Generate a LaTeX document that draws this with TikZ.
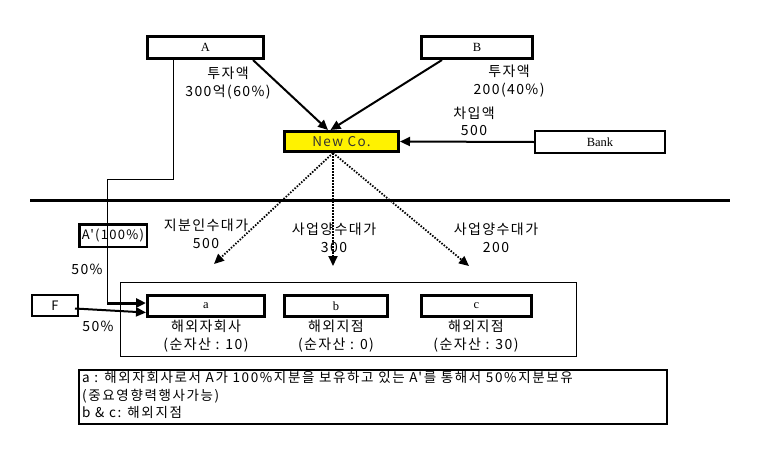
\documentclass[tikz,border=0pt]{standalone}
\usepackage{fontspec}
\setmainfont{Noto Sans CJK KR}
\newfontfamily\kr{Noto Sans CJK KR}[LetterSpace=10]
\newfontfamily\krn{Noto Sans CJK KR}[LetterSpace=12]
\newfontfamily\serifen{Liberation Serif}
\usetikzlibrary{arrows.meta}
\begin{document}
\begin{tikzpicture}[x=1pt,y=-1pt,
  box/.style={draw, inner sep=0pt, font=\serifen\fontsize{12.5}{14}\selectfont},
  thk/.style={box, line width=3pt},
  lbl/.style={align=center, inner sep=0pt, font=\kr\fontsize{14}{17.5}\selectfont},
  arr/.style={line width=2pt, -{Triangle[length=10pt,width=9pt]}},
  dotarr/.style={line width=1.8pt, dash pattern=on 1.5pt off 1.5pt, -{Triangle[length=10pt,width=9pt]}}]
\useasboundingbox (0,0) rectangle (763,450);
% top nodes
\node[thk, minimum width=116pt, minimum height=22pt] (A) at (205.5,47.5) {A};
\node[thk, minimum width=111pt, minimum height=22pt] (B) at (477,47.5) {B};
\node[thk, fill=yellow, minimum width=114pt, minimum height=20pt,
      font=\kr\fontsize{13.5}{14}\selectfont, text=black!80] (NewCo) at (341.5,141.5) {New Co.};
\node[box, line width=2pt, minimum width=130pt, minimum height=22pt] (Bank) at (600,142) {Bank};
% labels top
\node[lbl] (invA) at (228,83) {투자액\\300억(60\%)};
\node[lbl] (invB) at (509,81) {투자액\\200(40\%)};
\node[lbl] (loan) at (474,121.5) {차입액\\500};
% arrows top
\draw[arr] ([xshift=-12pt]A.south east) -- ([xshift=-13.5pt]NewCo.north);
\draw[arr] ([xshift=22pt]B.south west) -- ([xshift=-11pt]NewCo.north);
\draw[arr] (Bank.west) -- (NewCo.east);
% divider
\draw[line width=3pt] (30,200) -- (730,200);
% left side
\node[box, line width=2.5pt, minimum width=67.5pt, minimum height=22.5pt,
      font=\kr\fontsize{13}{14}\selectfont] (Ap) at (113,235.5) {A'(100\%)};
\node[box, line width=2pt, minimum width=46pt, minimum height=21pt,
      font=\kr\fontsize{13}{14}\selectfont] (F) at (55,305.5) {F};
\node[lbl] (p1) at (87,269) {50\%};
\node[lbl] (p2) at (98,326) {50\%};
% group box
\node[draw, line width=1pt, minimum width=456pt, minimum height=74pt, inner sep=0pt] (grp) at (348,319) {};
\node[thk, minimum width=117pt, minimum height=21pt] (a) at (206,306) {a};
\node[thk, minimum width=103pt, minimum height=21pt] (b) at (336,306) {b};
\node[thk, minimum width=110pt, minimum height=21pt] (c) at (476.5,306) {c};
\node[lbl] (la) at (206,336) {해외자회사\\(순자산 : 10)};
\node[lbl] (lb) at (336,336) {해외지점\\(순자산 : 0)};
\node[lbl] (lc) at (476,336) {해외지점\\(순자산 : 30)};
% dotted arrows
\coordinate (t1) at (214,264);
\coordinate (t2) at (333,266);
\coordinate (t3) at (469,266);
\draw[dotarr] ([xshift=-8.5pt]NewCo.south) -- (t1);
\draw[dotarr] ([xshift=-8.5pt]NewCo.south) -- (t2);
\draw[dotarr] ([xshift=-8.5pt]NewCo.south) -- (t3);
\node[lbl] (l1) at (206,234) {지분인수대가\\500};
\node[lbl] (l2) at (334,238) {사업양수대가\\300};
\node[lbl] (l3) at (496,238) {사업양수대가\\200};
% ownership lines
\coordinate (k1) at (107,179);
\coordinate (k2) at (107,303);
\draw[line width=1pt] ([xshift=27pt]A.south west) |- (k1) -- (k2);
\draw[arr, line width=3pt] (k2) -- (a.west |- k2);
\draw[arr] ([xshift=-4pt,yshift=-3pt]F.east) -- ([yshift=-6.5pt]a.west);
% note box
\node[draw, line width=1.5pt, minimum width=588pt, minimum height=54pt, inner sep=0pt] (note) at (373,397) {};
\node[anchor=north west, align=left, inner sep=0pt, font=\krn\fontsize{13.5}{17.5}\selectfont] (notetxt) at (82,371.5)
  {a : 해외자회사로서 A가 100\%지분을 보유하고 있는 A'를 통해서 50\%지분보유\\
   (중요영향력행사가능)\\
   b \& c: 해외지점};
\end{tikzpicture}
\end{document}
